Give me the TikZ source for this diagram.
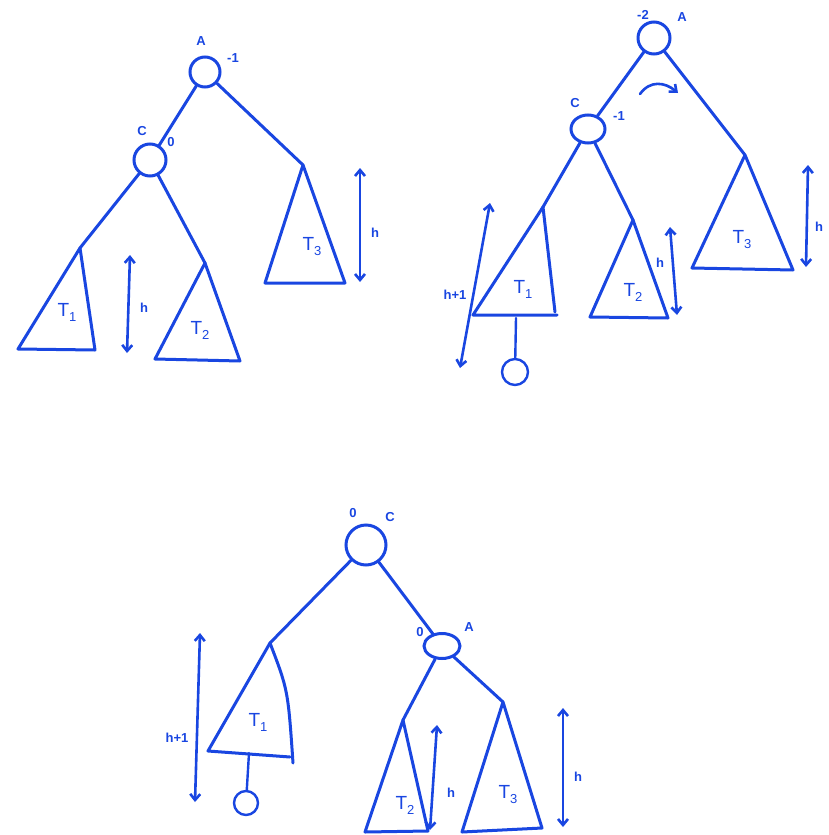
\documentclass[tikz,border=0pt]{standalone}
\usepackage{fontspec}
\setmainfont{Liberation Sans}
\usetikzlibrary{arrows.meta,shapes.geometric}
\definecolor{pen}{RGB}{25,70,225}
\tikzset{
 tree/.style={draw=pen, line width=3pt, line join=round, line cap=round},
 vertex/.style={circle, draw=pen, line width=3pt, inner sep=0pt, minimum size=30pt},
 oval/.style={ellipse, draw=pen, line width=3pt, inner sep=0pt},
 lbl/.style={text=pen, font=\bfseries\fontsize{13}{15}\selectfont, inner sep=1pt},
 tlbl/.style={text=pen, font=\fontsize{19}{22}\selectfont, inner sep=1pt},
 harrow/.style={draw=pen, line width=2.6pt, line cap=round, {Straight Barb[length=6pt,width=10pt]}-{Straight Barb[length=6pt,width=10pt]}},
}
\newcommand{\Tsub}[1]{T\raisebox{-0.5ex}{\fontsize{13}{15}\selectfont #1}}
\begin{document}
\begin{tikzpicture}[x=1pt,y=-1pt]
\useasboundingbox (0,0) rectangle (828,835);
% ---------------- top-left tree ----------------
\node[vertex] (A1) at (205,72) {};
\node[lbl] (A1n) at (201,41) {A};
\node[lbl] (A1b) at (233,58) {-1};
\node[vertex, minimum size=32pt] (C1) at (150,160) {};
\node[lbl] (C1n) at (142,131) {C};
\node[lbl] (C1b) at (171,142) {0};
\coordinate (L1a) at (80,248);
\coordinate (L1b) at (18,349);
\coordinate (L1c) at (95,350);
\coordinate (M1a) at (205,263);
\coordinate (M1b) at (155,359);
\coordinate (M1c) at (240,361);
\coordinate (R1a) at (303,165);
\coordinate (R1b) at (265,283);
\coordinate (R1c) at (345,283);
\draw[tree] (A1) -- (C1);
\draw[tree] (A1) -- (R1a);
\draw[tree] (C1) -- (L1a);
\draw[tree] (C1) -- (M1a);
\draw[tree] (L1a) -- (L1b) -- (L1c) -- cycle;
\draw[tree] (M1a) -- (M1b) -- (M1c) -- cycle;
\draw[tree] (R1a) -- (R1b) -- (R1c) -- cycle;
\node[tlbl] (T11) at (67,312) {\Tsub{1}};
\node[tlbl] (T12) at (200,330) {\Tsub{2}};
\node[tlbl] (T13) at (312,247) {\Tsub{3}};
\coordinate (h1a) at (130,255);
\coordinate (h1b) at (127,353);
\draw[harrow] (h1a) -- (h1b);
\node[lbl] (h1l) at (144,308) {h};
\coordinate (h2a) at (360,168);
\coordinate (h2b) at (360,282);
\draw[harrow] (h2a) -- (h2b);
\node[lbl] (h2l) at (375,233) {h};
% ---------------- top-right tree ----------------
\node[vertex, minimum size=32pt] (A2) at (654,38) {};
\node[lbl] (A2b) at (643,15) {-2};
\node[lbl] (A2n) at (682,17) {A};
\node[oval, minimum width=34pt, minimum height=28pt] (C2) at (588,129) {};
\node[lbl] (C2n) at (575,103) {C};
\node[lbl] (C2b) at (619,116) {-1};
\coordinate (rot1) at (640,94);
\coordinate (rot2) at (678,93);
\draw[draw=pen, line width=2.6pt, line cap=round, -{Straight Barb[length=6pt,width=10pt]}] (rot1) .. controls (650,80) and (665,82) .. (rot2);
\coordinate (L2a) at (543,207);
\coordinate (L2b) at (473,315);
\coordinate (L2c) at (557,315);
\coordinate (L2d) at (555,312);
\coordinate (M2a) at (633,220);
\coordinate (M2b) at (590,317);
\coordinate (M2c) at (668,318);
\coordinate (R2a) at (745,155);
\coordinate (R2b) at (692,268);
\coordinate (R2c) at (793,270);
\draw[tree] (A2) -- (C2);
\draw[tree] (A2) -- (R2a);
\draw[tree] (C2) -- (L2a);
\draw[tree] (C2) -- (M2a);
\draw[tree] (L2a) -- (L2b) -- (L2c);
\draw[tree] (L2a) -- (L2d);
\draw[tree] (M2a) -- (M2b) -- (M2c) -- cycle;
\draw[tree] (R2a) -- (R2b) -- (R2c) -- cycle;
\node[tlbl] (T21) at (523,289) {\Tsub{1}};
\node[tlbl] (T22) at (633,292) {\Tsub{2}};
\node[tlbl] (T23) at (742,240) {\Tsub{3}};
\coordinate (lf2) at (516,318);
\node[vertex, minimum size=26pt, line width=2.4pt] (N2) at (515,372) {};
\draw[tree, line width=2.4pt] (lf2) -- (N2);
\coordinate (h3a) at (490,203);
\coordinate (h3b) at (460,368);
\draw[harrow] (h3a) -- (h3b);
\node[lbl, fill=white, inner sep=0.5pt] (h3l) at (455,295) {h+1};
\coordinate (h4a) at (670,227);
\coordinate (h4b) at (677,315);
\draw[harrow] (h4a) -- (h4b);
\node[lbl] (h4l) at (660,263) {h};
\coordinate (h5a) at (808,165);
\coordinate (h5b) at (806,267);
\draw[harrow] (h5a) -- (h5b);
\node[lbl] (h5l) at (819,227) {h};
% ---------------- bottom tree ----------------
\node[vertex, minimum size=40pt] (C3) at (366,545) {};
\node[lbl] (C3b) at (353,513) {0};
\node[lbl] (C3n) at (390,517) {C};
\node[oval, minimum width=36pt, minimum height=25pt] (A3) at (442,646) {};
\node[lbl] (A3b) at (420,632) {0};
\node[lbl] (A3n) at (469,627) {A};
\coordinate (L3a) at (270,643);
\coordinate (L3b) at (208,751);
\coordinate (L3c) at (290,757);
\coordinate (L3d) at (293,763);
\coordinate (M3a) at (403,720);
\coordinate (M3b) at (365,832);
\coordinate (M3c) at (428,831);
\coordinate (R3a) at (503,702);
\coordinate (R3b) at (462,832);
\coordinate (R3c) at (542,828);
\draw[tree] (C3) -- (L3a);
\draw[tree] (C3) -- (A3);
\draw[tree] (A3) -- (M3a);
\draw[tree] (A3) -- (R3a);
\draw[tree] (L3a) -- (L3b) -- (L3c);
\draw[tree] (L3a) .. controls (288,690) .. (L3d);
\draw[tree] (M3a) -- (M3b) -- (M3c) -- cycle;
\draw[tree] (R3a) -- (R3b) -- (R3c) -- cycle;
\node[tlbl] (T31) at (258,722) {\Tsub{1}};
\node[tlbl] (T32) at (405,805) {\Tsub{2}};
\node[tlbl] (T33) at (508,795) {\Tsub{3}};
\coordinate (lf3) at (249,753);
\node[vertex, minimum size=24pt, line width=2.4pt] (N3) at (246,803) {};
\draw[tree, line width=2.4pt] (lf3) -- (N3);
\coordinate (h6a) at (200,633);
\coordinate (h6b) at (195,802);
\draw[harrow] (h6a) -- (h6b);
\node[lbl] (h6l) at (177,738) {h+1};
\coordinate (h7a) at (437,725);
\coordinate (h7b) at (430,830);
\draw[harrow] (h7a) -- (h7b);
\node[lbl] (h7l) at (451,793) {h};
\coordinate (h8a) at (563,708);
\coordinate (h8b) at (563,827);
\draw[harrow] (h8a) -- (h8b);
\node[lbl] (h8l) at (578,777) {h};
\end{tikzpicture}
\end{document}
